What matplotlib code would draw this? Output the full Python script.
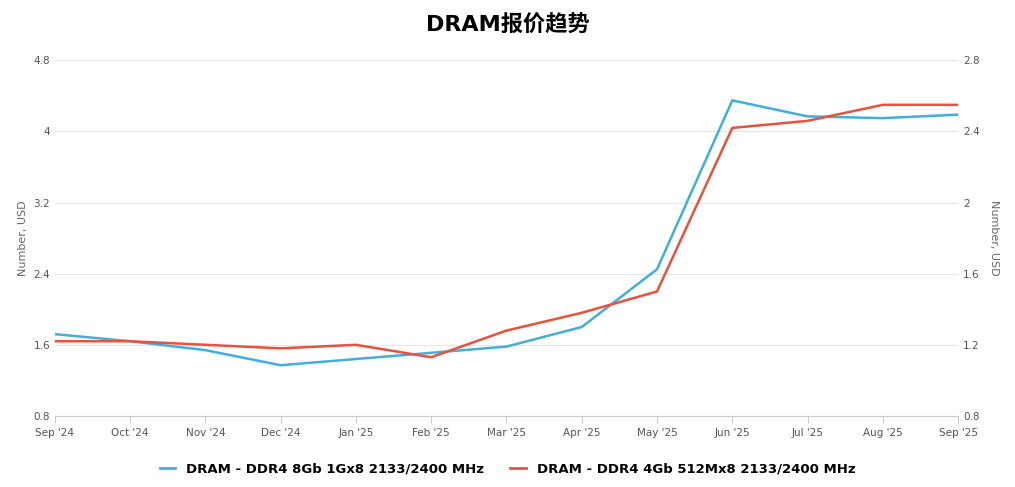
import matplotlib
matplotlib.use("Agg")
import matplotlib.pyplot as plt

months = ["Sep '24","Oct '24","Nov '24","Dec '24","Jan '25","Feb '25","Mar '25","Apr '25","May '25","Jun '25","Jul '25","Aug '25","Sep '25"]
ddr4_8gb = [1.72,1.64,1.54,1.37,1.44,1.51,1.58,1.80,2.45,4.35,4.17,4.15,4.19]
ddr4_4gb = [1.22,1.22,1.20,1.18,1.20,1.13,1.28,1.38,1.50,2.42,2.46,2.55,2.55]
left_ticks = [0.8,1.6,2.4,3.2,4,4.8]
right_ticks = [0.8,1.2,1.6,2,2.4,2.8]

plt.rcParams["font.family"] = ["DejaVu Sans", "Noto Sans CJK SC"]
fig = plt.figure(figsize=(10.15,4.87), dpi=100)
ax = fig.add_axes([0.054, 0.146, 0.89, 0.73])
ax2 = ax.twinx()
x = list(range(len(months)))
blue = "#41aedb"; red = "#e8523c"
ax.plot(x, ddr4_8gb, color=blue, lw=1.8)
ax2.plot(x, ddr4_4gb, color=red, lw=1.8)
ax.set_ylim(0.8, 4.8); ax2.set_ylim(0.8, 2.8)
ax.set_xlim(0, len(months)-1)
ax.set_yticks(left_ticks); ax.set_yticklabels([f"{v:g}" for v in left_ticks])
ax2.set_yticks(right_ticks); ax2.set_yticklabels([f"{v:g}" for v in right_ticks])
ax.set_xticks(x); ax.set_xticklabels(months)
for a in (ax, ax2):
    a.tick_params(labelsize=7.5, colors="#555555", length=0)
    for s in a.spines.values(): s.set_visible(False)
ax.tick_params(axis="x", length=5, color="#cccccc")
ax.spines["bottom"].set_visible(True); ax.spines["bottom"].set_color("#cccccc")
ax.grid(axis="y", color="#e6e6e6", lw=0.8)
ax.set_ylabel("Number, USD", fontsize=8, color="#666666")
ax2.set_ylabel("Number, USD", fontsize=8, color="#666666", rotation=270, labelpad=14)
fig.suptitle("DRAM报价趋势", fontsize=16, fontweight="bold", y=0.97)
from matplotlib.lines import Line2D
h = [Line2D([],[],color=blue,lw=2), Line2D([],[],color=red,lw=2)]
fig.legend(h, ["DRAM - DDR4 8Gb 1Gx8 2133/2400 MHz","DRAM - DDR4 4Gb 512Mx8 2133/2400 MHz"],
           loc="lower center", ncol=2, frameon=False, bbox_to_anchor=(0.5,0.0),
           prop={"weight":"bold","size":9.5}, handlelength=1.2, columnspacing=2)
fig.savefig("out.png", dpi=100)
